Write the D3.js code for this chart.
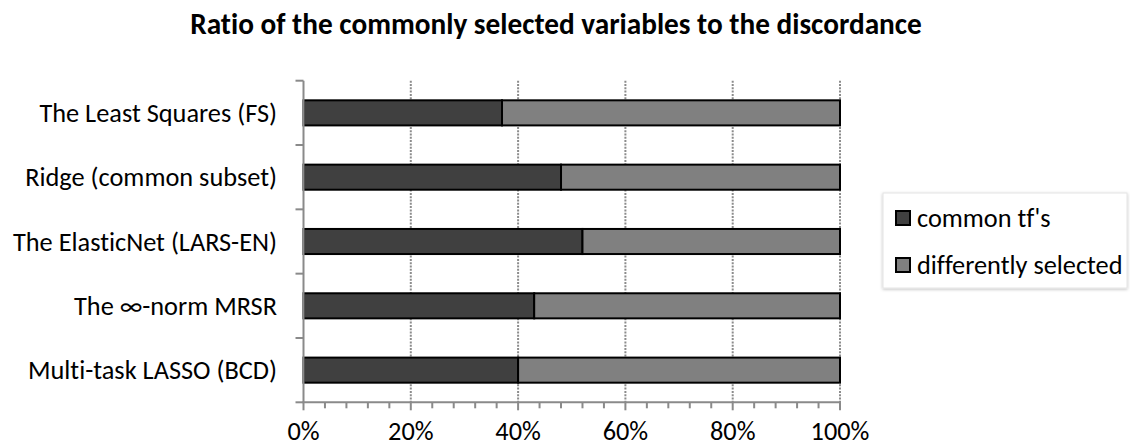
<!DOCTYPE html>
<html>
<head>
<meta charset="utf-8">
<script src="https://cdn.jsdelivr.net/npm/d3@7"></script>
<style>
  html, body { margin: 0; padding: 0; background: #fff; }
  svg { display: block; }
  text { font-variant-ligatures: none; font-feature-settings: "liga" 0, "clig" 0; }
</style>
</head>
<body>
<svg id="chart" width="1130" height="446"></svg>
<script>
// Methods compared, listed top to bottom
const categories = [
  "The Least Squares (FS)",
  "Ridge (common subset)",
  "The ElasticNet (LARS-EN)",
  "The \u221E-norm MRSR",
  "Multi-task LASSO (BCD)"
];
// Share of commonly selected variables (common tf's)
const commonShare = [0.37, 0.48, 0.52, 0.43, 0.40];
// Share of differently selected variables
const differentShare = commonShare.map(v => 1 - v);
const seriesNames = ["common tf's", "differently selected"];
const seriesColors = ["#404040", "#808080"];
const tickValues = [0, 0.2, 0.4, 0.6, 0.8, 1.0];
const minorTickValues = d3.range(0, 1.0001, 0.04);
const titleText = "Ratio of the commonly selected variables to the discordance";

const FONT = "Carlito, Lato, 'Open Sans', sans-serif";

// Pick a font size so that a string renders at a given width
const ctx = document.createElement("canvas").getContext("2d");
function sizeFor(text, weight, width) {
  ctx.font = `${weight} 100px ${FONT}`;
  return 100 * width / ctx.measureText(text).width;
}
const labelSize = sizeFor("The ElasticNet (LARS-EN)", "normal", 264);
const titleSize = sizeFor(titleText, "bold", 732);

const svg = d3.select("#chart");

const plot = { left: 303.5, right: 840, top: 80.7, bottom: 402.3 };

const x = d3.scaleLinear().domain([0, 1]).range([plot.left, plot.right]);
const y = d3.scaleBand().domain(categories)
  .range([plot.top, plot.bottom])
  .paddingInner(0.61).paddingOuter(0.305);

// Title
svg.append("text")
  .attr("x", 556).attr("y", 33.5)
  .attr("text-anchor", "middle")
  .attr("font-family", FONT).attr("font-weight", "bold")
  .attr("font-size", titleSize)
  .attr("fill", "#000")
  .text(titleText);

// Dotted vertical gridlines
svg.append("g").selectAll("line")
  .data(tickValues.slice(1))
  .join("line")
  .attr("x1", d => x(d)).attr("x2", d => x(d))
  .attr("y1", plot.top).attr("y2", plot.bottom)
  .attr("stroke", "#8c8c8c").attr("stroke-width", 2)
  .attr("stroke-dasharray", "2,1.3");

// Stacked bars
const rows = categories.map((c, i) => ({ cat: c, parts: [commonShare[i], differentShare[i]] }));
const barG = svg.append("g");
rows.forEach(r => {
  let start = 0;
  r.parts.forEach((v, k) => {
    barG.append("rect")
      .attr("x", x(start)).attr("y", y(r.cat))
      .attr("width", x(start + v) - x(start))
      .attr("height", y.bandwidth())
      .attr("fill", seriesColors[k])
      .attr("stroke", "#000").attr("stroke-width", 2);
    start += v;
  });
});

// Category axis
const axisColor = "#8a8a8a";
const bandEdge = i => plot.top + i * (plot.bottom - plot.top) / categories.length;
svg.append("line")
  .attr("x1", plot.left).attr("x2", plot.left)
  .attr("y1", plot.top).attr("y2", plot.bottom)
  .attr("stroke", axisColor).attr("stroke-width", 2);
svg.append("g").selectAll("line")
  .data(d3.range(categories.length + 1))
  .join("line")
  .attr("x1", plot.left - 8).attr("x2", plot.left)
  .attr("y1", bandEdge).attr("y2", bandEdge)
  .attr("stroke", axisColor).attr("stroke-width", 2);
svg.append("g").selectAll("text")
  .data(categories)
  .join("text")
  .attr("x", 277)
  .attr("y", d => y(d) + y.bandwidth() / 2)
  .attr("dy", "0.35em")
  .attr("text-anchor", "end")
  .attr("font-family", FONT).attr("font-size", labelSize)
  .attr("fill", "#000")
  .text(d => d);

// Value axis
svg.append("line")
  .attr("x1", plot.left - 1).attr("x2", plot.right + 1)
  .attr("y1", plot.bottom).attr("y2", plot.bottom)
  .attr("stroke", axisColor).attr("stroke-width", 2);
svg.append("g").selectAll("line")
  .data(minorTickValues)
  .join("line")
  .attr("x1", d => x(d)).attr("x2", d => x(d))
  .attr("y1", plot.bottom)
  .attr("y2", d => plot.bottom + (Math.abs(d * 5 - Math.round(d * 5)) < 1e-6 ? 8 : 6))
  .attr("stroke", axisColor).attr("stroke-width", 2);
svg.append("g").selectAll("text")
  .data(tickValues)
  .join("text")
  .attr("x", d => x(d)).attr("y", 440)
  .attr("text-anchor", "middle")
  .attr("font-family", FONT).attr("font-size", labelSize)
  .attr("fill", "#000")
  .text(d3.format(".0%"));

// Legend
const defs = svg.append("defs");
const f = defs.append("filter").attr("id", "legendShadow")
  .attr("x", "-10%").attr("y", "-10%").attr("width", "120%").attr("height", "130%");
f.append("feDropShadow").attr("dx", 0).attr("dy", 1).attr("stdDeviation", 1.5)
  .attr("flood-color", "#000").attr("flood-opacity", 0.25);

const legend = svg.append("g");
legend.append("rect")
  .attr("x", 883).attr("y", 193).attr("width", 244).attr("height", 95)
  .attr("fill", "#fff").attr("stroke", "#e4e4e4").attr("stroke-width", 1)
  .attr("filter", "url(#legendShadow)");
const legendRows = [218, 265];
seriesNames.forEach((name, k) => {
  legend.append("rect")
    .attr("x", 896).attr("y", legendRows[k] - 7).attr("width", 14).attr("height", 14)
    .attr("fill", seriesColors[k]).attr("stroke", "#000").attr("stroke-width", 2);
  legend.append("text")
    .attr("x", 917).attr("y", legendRows[k])
    .attr("dy", "0.35em")
    .attr("font-family", FONT).attr("font-size", labelSize)
    .attr("fill", "#000")
    .text(name);
});
</script>
</body>
</html>
